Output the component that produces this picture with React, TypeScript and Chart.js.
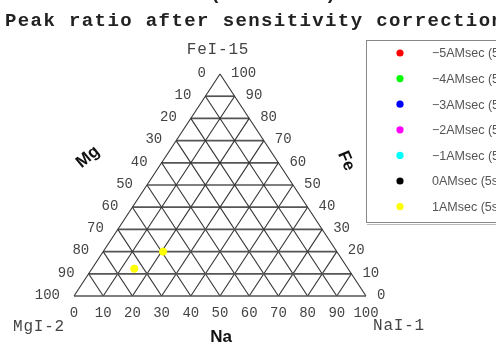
import React, { useEffect, useRef } from "react";
import { Chart, registerables } from "chart.js";

Chart.register(...registerables);

// ---- text ----
const headerText = "  ZrO2  Contents(x 3.0wt%)";
const titleText = "Peak ratio after sensitivity correction";
const cornerTop = "FeI-15";
const cornerLeft = "MgI-2";
const cornerRight = "NaI-1";
const axisTitleMg = "Mg";
const axisTitleFe = "Fe";
const axisTitleNa = "Na";

// ---- ticks (percent) ----
const tickValues = [0, 10, 20, 30, 40, 50, 60, 70, 80, 90, 100];
const tickLabels = ["0", "10", "20", "30", "40", "50", "60", "70", "80", "90", "100"];

// ---- series ----
const seriesNames = [
  "\u22125AMsec (5s)",
  "\u22124AMsec (5s)",
  "\u22123AMsec (5s)",
  "\u22122AMsec (5s)",
  "\u22121AMsec (5s)",
  "0AMsec (5s)",
  "1AMsec (5s)",
];
const seriesColors = ["#ff0000", "#00ff00", "#0000ff", "#ff00ff", "#00ffff", "#000000", "#ffff00"];

// Na / Fe / Mg percentages per series (only 1AMsec has visible points)
const naM5: number[] = [];
const feM5: number[] = [];
const naM4: number[] = [];
const feM4: number[] = [];
const naM3: number[] = [];
const feM3: number[] = [];
const naM2: number[] = [];
const feM2: number[] = [];
const naM1: number[] = [];
const feM1: number[] = [];
const na0: number[] = [];
const fe0: number[] = [];
const naP1 = [20.5, 14.5];
const feP1 = [20.0, 12.3];
const mgP1 = [59.5, 73.2];

const seriesNa = [naM5, naM4, naM3, naM2, naM1, na0, naP1];
const seriesFe = [feM5, feM4, feM3, feM2, feM1, fe0, feP1];

// ternary -> cartesian (x = Na + Fe/2, y = Fe)
const tern = (na: number, fe: number) => ({ x: na + fe / 2, y: fe });

const MONO = "'Liberation Mono', 'DejaVu Sans Mono', monospace";

function setSpacing(ctx: any, px: number) {
  if ("letterSpacing" in ctx) ctx.letterSpacing = px + "px";
}

const textPlugin = {
  id: "ternaryText",
  afterDraw(chart: any) {
    const ctx = chart.ctx as CanvasRenderingContext2D;
    const xs = chart.scales.x;
    const ys = chart.scales.y;
    const P = (na: number, fe: number) => {
      const t = tern(na, fe);
      return { x: xs.getPixelForValue(t.x), y: ys.getPixelForValue(t.y) };
    };
    ctx.save();

    // header (clipped line) and title
    ctx.fillStyle = "#222";
    ctx.font = "bold 19px " + MONO;
    setSpacing(ctx, 1.4);
    ctx.textAlign = "left";
    ctx.textBaseline = "alphabetic";
    ctx.fillText(headerText, 5, -1);
    ctx.fillText(titleText, 5, 26);

    // corner labels
    ctx.fillStyle = "#444";
    ctx.font = "16px " + MONO;
    setSpacing(ctx, 0.8);
    ctx.textBaseline = "middle";
    ctx.textAlign = "center";
    ctx.fillText(cornerTop, 218, 50);
    ctx.fillText(cornerLeft, 39, 327);
    ctx.textAlign = "left";
    ctx.fillText(cornerRight, 373, 326);

    // tick labels
    ctx.font = "14px " + MONO;
    setSpacing(ctx, 0);
    ctx.fillStyle = "#444";
    tickValues.forEach((v, i) => {
      const lbl = tickLabels[i];
      // Mg on left edge: Na=0, Fe=100-v
      const l = P(0, 100 - v);
      ctx.textAlign = "right";
      ctx.fillText(lbl, l.x - 14, l.y - 1);
      // Fe on right edge: Na=100-v, Fe=v
      const r = P(100 - v, v);
      ctx.textAlign = "left";
      ctx.fillText(lbl, r.x + 11, r.y - 1);
      // Na on bottom edge
      const b = P(v, 0);
      ctx.textAlign = "center";
      ctx.fillText(lbl, b.x, b.y + 17);
    });

    // axis titles
    ctx.fillStyle = "#111";
    ctx.font = "bold 17px 'Liberation Sans', Arial, sans-serif";
    ctx.textAlign = "center";
    ctx.save();
    ctx.translate(88, 157);
    ctx.rotate(-Math.PI / 4.5);
    ctx.fillText(axisTitleMg, 0, 0);
    ctx.restore();
    ctx.save();
    ctx.translate(346, 161);
    ctx.rotate(Math.PI / 2.7);
    ctx.fillText(axisTitleFe, 0, 0);
    ctx.restore();
    ctx.font = "bold 17px 'Liberation Sans', Arial, sans-serif";
    ctx.fillText(axisTitleNa, 221, 337);

    // legend box
    ctx.strokeStyle = "#888";
    ctx.lineWidth = 1;
    ctx.strokeRect(366.5, 40.5, 200, 182);
    ctx.strokeStyle = "#bbb";
    ctx.beginPath();
    ctx.moveTo(367, 224.5);
    ctx.lineTo(500, 224.5);
    ctx.stroke();
    ctx.font = "12.5px 'Liberation Sans', Arial, sans-serif";
    setSpacing(ctx, 0);
    ctx.textAlign = "left";
    seriesNames.forEach((name, i) => {
      const y = 53 + i * 25.6;
      ctx.fillStyle = seriesColors[i];
      ctx.beginPath();
      ctx.arc(400, y, 3.6, 0, Math.PI * 2);
      ctx.fill();
      ctx.fillStyle = "#555";
      ctx.fillText(name, 432, y + 1);
    });
    ctx.restore();
  },
};

export default function App() {
  const ref = useRef<HTMLCanvasElement | null>(null);
  useEffect(() => {
    if (!ref.current) return;
    const gridSets: any[] = [];
    const lineStyle = (horizontal: boolean) => ({
      type: "scatter",
      showLine: true,
      pointRadius: 0,
      borderColor: horizontal ? "#555" : "#333",
      borderWidth: horizontal ? 1.7 : 1.1,
      fill: false,
      clip: false,
      order: 10,
    });
    tickValues.forEach((v) => {
      gridSets.push({ ...lineStyle(true), data: [tern(0, v), tern(100 - v, v)] });
      gridSets.push({ ...lineStyle(false), data: [tern(v, 0), tern(v, 100 - v)] });
      gridSets.push({ ...lineStyle(false), data: [tern(100 - v, 0), tern(0, 100 - v)] });
    });
    const pointSets = seriesNames.map((name, i) => ({
      type: "scatter",
      label: name,
      data: seriesNa[i].map((na, k) => tern(na, seriesFe[i][k])),
      backgroundColor: seriesColors[i],
      borderColor: seriesColors[i],
      pointRadius: 3.6,
      showLine: false,
      clip: false,
      order: 1,
    }));
    const chart = new Chart(ref.current, {
      type: "scatter",
      data: { datasets: [...pointSets, ...gridSets] as any },
      options: {
        animation: false,
        responsive: false,
        layout: { padding: { left: 74, right: 130, top: 74, bottom: 60 } },
        scales: {
          x: { type: "linear", min: 0, max: 100, display: false },
          y: { type: "linear", min: 0, max: 100, display: false },
        },
        plugins: { legend: { display: false }, tooltip: { enabled: false }, title: { display: false } },
      },
      plugins: [textPlugin],
    });
    return () => chart.destroy();
  }, []);
  return (
    <div style={{ position: "absolute", left: 0, top: 0, width: 496, height: 356, background: "#fff" }}>
      <canvas ref={ref} width={496} height={356} style={{ display: "block" }} />
    </div>
  );
}
